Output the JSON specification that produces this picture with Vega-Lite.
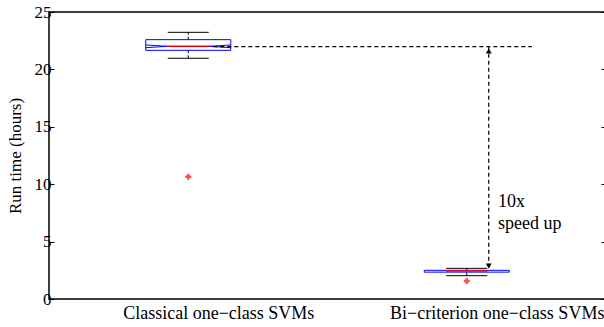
{
  "$schema": "https://vega.github.io/schema/vega-lite/v6.json",
  "width": 557,
  "height": 287,
  "autosize": {"type": "none"},
  "padding": {"left": 49, "top": 12, "right": 0, "bottom": 28},
  "background": "white",
  "config": {
    "view": {"stroke": "black", "strokeWidth": 1.5},
    "font": "'Liberation Serif', 'Times New Roman', 'DejaVu Serif', serif",
    "axis": {
      "grid": false, "domain": false,
      "labelFont": "'Liberation Serif', 'Times New Roman', 'DejaVu Serif', serif", "titleFont": "'Liberation Serif', 'Times New Roman', 'DejaVu Serif', serif",
      "labelColor": "black", "titleColor": "black",
      "labelFontSize": 17, "titleFontSize": 17, "titleFontWeight": "normal",
      "tickColor": "black", "labelLimit": 0
    }
  },
  "datasets": {
    "boxes": [
      {"method": "Classical one−class SVMs", "grp": 1, "q1": 21.66, "q3": 22.59, "med": 22.01, "wlo": 20.97, "whi": 23.23},
      {"method": "Bi−criterion one−class SVMs", "grp": 2, "q1": 2.34, "q3": 2.5, "med": 2.44, "wlo": 2.03, "whi": 2.67}
    ],
    "outliers": [
      {"grp": 1, "hours": 10.65},
      {"grp": 2, "hours": 1.57}
    ],
    "notches": [
      {"grp": 1, "ya": 22.13, "yb": 22.01},
      {"grp": 1, "ya": 21.89, "yb": 22.01}
    ],
    "guides": [
      {"x": 1.09, "x2": 2.234, "y": 21.98, "y2": 21.98},
      {"x": 2.079, "x2": 2.079, "y": 21.98, "y2": 2.5}
    ],
    "notes": [
      {"x": 2.112, "y": 8.45, "label": "10x"},
      {"x": 2.112, "y": 6.53, "label": "speed up"}
    ]
  },
  "resolve": {"axis": {"y": "independent", "x": "independent"}},
  "layer": [
    {
      "data": {"name": "boxes"},
      "mark": {"type": "rect", "fillOpacity": 0, "stroke": "#0000ff", "strokeWidth": 1, "xOffset": -42.5, "x2Offset": 42.5},
      "encoding": {
        "x": {"field": "grp", "type": "quantitative", "scale": {"domain": [0.5, 2.5], "nice": false, "zero": false},
              "axis": {"title": null, "values": [1, 2], "ticks": false, "labelOffset": 30, "labelPadding": 5, "labelBaseline": "top", "labelFontSize": 18, "labelFlush": false, "labelOverlap": false, "labelBound": false, "labelLimit": 0,
                       "labelExpr": "datum.value == 1 ? 'Classical one−class SVMs' : 'Bi−criterion one−class SVMs'"}},
        "x2": {"field": "grp"},
        "y": {"field": "q1", "type": "quantitative", "scale": {"domain": [0, 25], "nice": false},
              "axis": {"title": "Run time (hours)", "values": [0, 5, 10, 15, 20, 25], "tickSize": -5, "labelPadding": 3, "titlePadding": 10}},
        "y2": {"field": "q3"}
      }
    },
    {
      "data": {"name": "boxes"},
      "mark": {"type": "rule", "color": "black", "strokeDash": [3, 2], "strokeWidth": 1},
      "encoding": {
        "x": {"field": "grp", "type": "quantitative", "axis": null},
        "y": {"field": "q3", "type": "quantitative", "axis": null},
        "y2": {"field": "whi"}
      }
    },
    {
      "data": {"name": "boxes"},
      "mark": {"type": "rule", "color": "black", "strokeDash": [3, 2], "strokeWidth": 1},
      "encoding": {
        "x": {"field": "grp", "type": "quantitative", "axis": null},
        "y": {"field": "wlo", "type": "quantitative", "axis": null},
        "y2": {"field": "q1"}
      }
    },
    {
      "data": {"name": "boxes"},
      "mark": {"type": "rule", "color": "black", "strokeWidth": 1, "xOffset": -20.5, "x2Offset": 20.5},
      "encoding": {
        "x": {"field": "grp", "type": "quantitative", "axis": null},
        "x2": {"field": "grp"},
        "y": {"field": "whi", "type": "quantitative", "axis": null}
      }
    },
    {
      "data": {"name": "boxes"},
      "mark": {"type": "rule", "color": "black", "strokeWidth": 1, "xOffset": -20.5, "x2Offset": 20.5},
      "encoding": {
        "x": {"field": "grp", "type": "quantitative", "axis": null},
        "x2": {"field": "grp"},
        "y": {"field": "wlo", "type": "quantitative", "axis": null}
      }
    },
    {
      "data": {"name": "notches"},
      "mark": {"type": "rule", "color": "#0000ff", "strokeWidth": 1, "xOffset": -42.5, "x2Offset": -21},
      "encoding": {
        "x": {"field": "grp", "type": "quantitative", "axis": null},
        "x2": {"field": "grp"},
        "y": {"field": "ya", "type": "quantitative", "axis": null},
        "y2": {"field": "yb"}
      }
    },
    {
      "data": {"name": "notches"},
      "mark": {"type": "rule", "color": "#0000ff", "strokeWidth": 1, "xOffset": 42.5, "x2Offset": 21},
      "encoding": {
        "x": {"field": "grp", "type": "quantitative", "axis": null},
        "x2": {"field": "grp"},
        "y": {"field": "ya", "type": "quantitative", "axis": null},
        "y2": {"field": "yb"}
      }
    },
    {
      "data": {"name": "boxes"},
      "mark": {"type": "rule", "color": "#ff0000", "strokeWidth": 1.5, "xOffset": -21, "x2Offset": 21},
      "encoding": {
        "x": {"field": "grp", "type": "quantitative", "axis": null},
        "x2": {"field": "grp"},
        "y": {"field": "med", "type": "quantitative", "axis": null}
      }
    },
    {
      "data": {"name": "outliers"},
      "mark": {"type": "point", "shape": "cross", "filled": true, "color": "#ff0000", "size": 35},
      "encoding": {
        "x": {"field": "grp", "type": "quantitative", "axis": null},
        "y": {"field": "hours", "type": "quantitative",
              "axis": {"orient": "right", "title": null, "labels": false, "values": [0, 5, 10, 15, 20, 25], "tickSize": -5}}
      }
    },
    {
      "data": {"name": "guides"},
      "mark": {"type": "rule", "color": "black", "strokeDash": [4, 3], "strokeWidth": 1.2},
      "encoding": {
        "x": {"field": "x", "type": "quantitative", "axis": null},
        "x2": {"field": "x2"},
        "y": {"field": "y", "type": "quantitative", "axis": null},
        "y2": {"field": "y2"}
      }
    },
    {
      "data": {"values": [{"x": 2.079, "y": 21.6}]},
      "mark": {"type": "point", "shape": "triangle-up", "filled": true, "color": "black", "size": 35, "opacity": 1},
      "encoding": {
        "x": {"field": "x", "type": "quantitative", "axis": null},
        "y": {"field": "y", "type": "quantitative", "axis": null}
      }
    },
    {
      "data": {"values": [{"x": 2.079, "y": 2.88}]},
      "mark": {"type": "point", "shape": "triangle-down", "filled": true, "color": "black", "size": 35, "opacity": 1},
      "encoding": {
        "x": {"field": "x", "type": "quantitative", "axis": null},
        "y": {"field": "y", "type": "quantitative", "axis": null}
      }
    },
    {
      "data": {"name": "notes"},
      "mark": {"type": "text", "align": "left", "baseline": "middle", "font": "'Liberation Serif', 'Times New Roman', 'DejaVu Serif', serif", "fontSize": 18, "color": "black"},
      "encoding": {
        "x": {"field": "x", "type": "quantitative", "axis": null},
        "y": {"field": "y", "type": "quantitative", "axis": null},
        "text": {"field": "label"}
      }
    }
  ]
}
